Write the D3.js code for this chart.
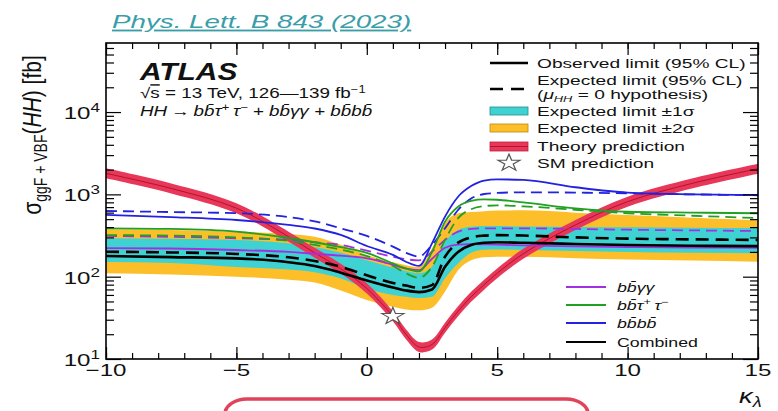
<!DOCTYPE html>
<html><head><meta charset="utf-8">
<script src="https://cdn.jsdelivr.net/npm/d3@7"></script>
<style>
body{margin:0;background:#fff}
svg{display:block}
text{font-family:"Liberation Sans",Arial,Helvetica,sans-serif;fill:#111}
</style>
</head><body>
<svg id="c" width="778" height="411"></svg>
<script>
// ---------------- data ----------------
const kappa     = [-10, -7.5, -5, -3, -2, -1, 0, 1, 1.5, 2, 2.5, 3, 3.5, 4, 4.5, 5, 6, 8, 10, 12.5, 15];
const theoryMid = [1800,1180,680,306,195,125,72,33,20,14,15,24,38,57,80,110,190,425,815,1365,2050];
const theoryHi  = [2070,1357,782,352,224,144,83,38,23,16.1,17.3,27.6,43.7,65.5,92,126,218,488,937,1570,2360];
const theoryLo  = [1565,1026,591,266,170,109,62.6,28.7,17.4,12.2,13,20.9,33,49.6,69.6,95.7,165,370,709,1187,1783];
const obsComb   = [178,173,167,150,135,112,90,74,68,65,70,132,200,243,258,262,258,250,243,238,235];
const expComb   = [201,197,189,172,155,132,104,84,78,73,79,175,259,300,315,320,316,300,290,284,279];
const exp1Hi    = [293,288,279,255,230,196,158,128,117,110,132,266,370,405,412,412,408,402,398,393,390];
const exp1Lo    = [151,147,131,122,113,95,72,60,57,55,57,96,145,195,212,214,211,205,200,196,192];
const exp2Hi    = [377,370,352,330,306,245,184,150,138,131,221,450,590,610,625,635,640,600,560,520,486];
const exp2Lo    = [110,106,100,92,85,68,52,43,40,39,42,66,120,158,172,175,175,168,162,157,152];
const bbyyObs   = [222,220,211,200,190,180,167,140,125,120,165,225,245,248,247,245,240,233,229,226,224];
const bbyyExp   = [313,305,293,280,262,243,207,175,163,158,201,280,352,380,387,387,387,380,372,365,359];
const bbttObs   = [387,380,352,295,262,228,195,145,126,116,200,466,708,835,870,860,800,675,615,600,590];
const bbttExp   = [320,315,300,272,243,213,178,135,110,97,132,280,515,660,720,735,715,650,590,550,515];
const bbbbObs   = [562,530,488,425,385,322,236,184,152,135,254,537,935,1260,1470,1520,1500,1220,1050,1000,980];
const bbbbExp   = [628,610,590,530,470,387,313,232,195,176,243,387,646,890,1010,1040,1060,1050,1030,1000,975];
const smKappa   = [1];
const smXsec    = [33];
const xTicks      = [-10, -5, 0, 5, 10, 15];
const xTickLabels = ["\u221210", "\u22125", "0", "5", "10", "15"];
const yTicks      = [10, 100, 1000, 10000];
const yTickExps   = ["1", "2", "3", "4"];

// ---------------- setup ----------------
const svg = d3.select("#c");
const L = 106, R = 758, T = 43, B = 359;
const x = d3.scaleLinear([-10, 15], [L, R]);
const y = d3.scaleLog([10, 69000], [B, T]);
const SX = 1.42; // horizontal stretch of the picture

svg.append("clipPath").attr("id", "clip").append("rect")
  .attr("x", L).attr("y", T).attr("width", R - L).attr("height", B - T);
const plot = svg.append("g").attr("clip-path", "url(#clip)");

const rows = (a, b) => kappa.map((k, i) => ({k, lo: a[i], hi: b ? b[i] : a[i]}));
const area = d3.area().x(d => x(d.k)).y0(d => y(d.lo)).y1(d => y(d.hi)).curve(d3.curveMonotoneX);
const line = d3.line().x(d => x(d.k)).y(d => y(d.lo)).curve(d3.curveMonotoneX);
const areaSmooth = d3.area().x(d => x(d.k)).y0(d => y(d.lo)).y1(d => y(d.hi)).curve(d3.curveCatmullRom.alpha(0.5));
const lineSmooth = d3.line().x(d => x(d.k)).y(d => y(d.lo)).curve(d3.curveCatmullRom.alpha(0.5));

const C = {cyan: "#3fd2d2", orange: "#fcbf2a", red: "#e8385a", redDark: "#b8102e",
           purple: "#a230e0", green: "#22a022", blue: "#2222e0", black: "#000"};

plot.append("path").attr("d", area(rows(exp2Lo, exp2Hi))).attr("fill", C.orange);
plot.append("path").attr("d", area(rows(exp1Lo, exp1Hi))).attr("fill", C.cyan);
plot.append("path").attr("d", areaSmooth(rows(theoryLo, theoryHi))).attr("fill", C.red);
plot.append("path").attr("d", lineSmooth(rows(theoryMid))).attr("fill", "none").attr("stroke", C.redDark).attr("stroke-width", 1);

function drawLine(vals, color, w, dash) {
  const p = plot.append("path").attr("d", line(rows(vals))).attr("fill", "none")
    .attr("stroke", color).attr("stroke-width", w);
  if (dash) p.attr("stroke-dasharray", dash);
}
drawLine(bbyyExp, C.purple, 1.8, "11,6");
drawLine(bbttExp, C.green, 1.8, "11,6");
drawLine(bbbbExp, C.blue, 1.8, "11,6");
drawLine(bbyyObs, C.purple, 1.8);
drawLine(bbttObs, C.green, 1.8);
drawLine(bbbbObs, C.blue, 1.8);
drawLine(expComb, C.black, 2.6, "13,7");
drawLine(obsComb, C.black, 2.6);

const star = d3.symbol(d3.symbolStar).size(90);
plot.selectAll(".sm").data(smKappa).join("path")
  .attr("transform", (d, i) => `translate(${x(d)},${y(smXsec[i])}) scale(1.3,1)`)
  .attr("d", star).attr("fill", "#fff").attr("stroke", "#555").attr("stroke-width", 1);

// ---------------- axes ----------------
function axisG(gen, tr) {
  const g = svg.append("g").attr("transform", tr).call(gen);
  g.select(".domain").remove();
  g.selectAll("line").attr("stroke", "#000").attr("stroke-width", 1.2);
  g.selectAll("text").remove();
}
const xMinor = d3.range(-10, 15.01, 1);
const yMinor = [];
yTicks.forEach(d => { for (let m = 2; m <= 9; m++) if (d * m < 69000) yMinor.push(d * m); });
axisG(d3.axisBottom(x).tickValues(xTicks).tickSize(-12), `translate(0,${B})`);
axisG(d3.axisBottom(x).tickValues(xMinor).tickSize(-6), `translate(0,${B})`);
axisG(d3.axisTop(x).tickValues(xTicks).tickSize(-12), `translate(0,${T})`);
axisG(d3.axisTop(x).tickValues(xMinor).tickSize(-6), `translate(0,${T})`);
axisG(d3.axisLeft(y).tickValues(yTicks).tickSize(-15), `translate(${L},0)`);
axisG(d3.axisLeft(y).tickValues(yMinor).tickSize(-8), `translate(${L},0)`);
axisG(d3.axisRight(y).tickValues(yTicks).tickSize(-15), `translate(${R},0)`);
axisG(d3.axisRight(y).tickValues(yMinor).tickSize(-8), `translate(${R},0)`);
svg.append("rect").attr("x", L).attr("y", T).attr("width", R - L).attr("height", B - T)
  .attr("fill", "none").attr("stroke", "#000").attr("stroke-width", 1.6);

// rich text helper
function rich(px, py, segs, o = {}) {
  const sx = o.sx || SX;
  const t = svg.append("text")
    .attr("transform", `translate(${px},${py}) scale(${sx},1)` + (o.rot ? ` rotate(${o.rot})` : ""))
    .attr("font-size", o.size || 14).attr("text-anchor", o.anchor || "start");
  if (o.weight) t.attr("font-weight", o.weight);
  if (o.style) t.attr("font-style", o.style);
  if (o.fill) t.style("fill", o.fill);
  if (o.deco) t.attr("text-decoration", o.deco);
  let cur = 0;
  segs.forEach(s => {
    if (typeof s === "string") s = {t: s};
    const sh = s.sh || 0;
    const ts = t.append("tspan").text(s.t);
    if (sh !== cur) ts.attr("dy", sh - cur);
    cur = sh;
    if (s.size) ts.attr("font-size", s.size);
    if (s.it) ts.attr("font-style", "italic");
    if (s.over) ts.attr("text-decoration", "overline");
  });
  return t;
}

xTicks.forEach((v, i) => rich(x(v), 376, [xTickLabels[i]], {size: 17, anchor: "middle"}));
yTicks.forEach((v, i) => rich(100, y(v) + 7, ["10", {t: yTickExps[i], sh: -7, size: 12}], {size: 17, anchor: "end"}));

// axis titles
rich(739, 403, [{t: "\u03ba", it: true}, {t: "\u03bb", it: true, sh: 4, size: 14}], {size: 21, sx: 1.3});
rich(41, 135, ["\u03c3", {t: "ggF + VBF", sh: 5, size: 14}, {t: "(", sh: 0}, {t: "HH", it: true}, ") [fb]"],
  {size: 21, anchor: "middle", rot: -90, sx: 1.25});

// header
rich(112, 28, ["Phys. Lett. B 843 (2023)"], {size: 18.5, style: "italic", fill: "#3a9ea8", deco: "underline", sx: 1.5});
rich(140, 80, ["ATLAS"], {size: 23, weight: "bold", style: "italic", sx: 1.3});
rich(140, 98, ["\u221a", {t: "s", over: true}, " = 13 TeV, 126\u2014139 fb", {t: "\u22121", sh: -5, size: 10}], {size: 14.5, sx: 1.3});
rich(140, 116, ["HH\u2009\u2192\u2009bb\u0304\u03c4", {t: "+", sh: -5, size: 10}, {t: "\u2009\u03c4", sh: 0}, {t: "\u2212", sh: -5, size: 10},
  {t: " + bb\u0304\u03b3\u03b3 + bb\u0304bb\u0304", sh: 0}], {size: 14.5, style: "italic", sx: 1.3});

// top-right legend
const lg = svg.append("g");
const lx1 = 490, lx2 = 528, tx = 537;
lg.append("line").attr("x1", lx1).attr("x2", lx2).attr("y1", 63).attr("y2", 63).attr("stroke", "#000").attr("stroke-width", 2.6);
lg.append("line").attr("x1", lx1).attr("x2", lx2).attr("y1", 89).attr("y2", 89).attr("stroke", "#000").attr("stroke-width", 2.6).attr("stroke-dasharray", "13,8");
lg.append("rect").attr("x", lx1).attr("y", 107).attr("width", lx2 - lx1).attr("height", 8).attr("fill", C.cyan).attr("stroke", "#2a8c8c").attr("stroke-width", 0.8);
lg.append("rect").attr("x", lx1).attr("y", 124).attr("width", lx2 - lx1).attr("height", 8).attr("fill", C.orange).attr("stroke", "#b88a10").attr("stroke-width", 0.8);
lg.append("rect").attr("x", lx1).attr("y", 142).attr("width", lx2 - lx1).attr("height", 9).attr("fill", C.red).attr("stroke", "#c0203c").attr("stroke-width", 0.8);
lg.append("line").attr("x1", lx1).attr("x2", lx2).attr("y1", 146.5).attr("y2", 146.5).attr("stroke", C.redDark).attr("stroke-width", 1);
lg.append("path").attr("transform", "translate(509,163) scale(1.3,1)").attr("d", star).attr("fill", "#fff").attr("stroke", "#555");
const ls = 13.5;
rich(tx, 68, ["Observed limit (95% CL)"], {size: ls});
rich(tx, 85, ["Expected limit (95% CL)"], {size: ls});
rich(tx, 99, ["(", {t: "\u03bc", it: true}, {t: "HH", it: true, sh: 3, size: 9}, {t: " = 0 hypothesis)", sh: 0}], {size: ls});
rich(tx, 116, ["Expected limit \u00b11\u03c3"], {size: ls});
rich(tx, 133, ["Expected limit \u00b12\u03c3"], {size: ls});
rich(tx, 151, ["Theory prediction"], {size: ls});
rich(tx, 168, ["SM prediction"], {size: ls});

// channel legend
const chan = [
  {c: C.purple, segs: [{t: "bb\u0304\u03b3\u03b3", it: true}]},
  {c: C.green, segs: [{t: "bb\u0304\u03c4", it: true}, {t: "+", sh: -5, size: 9}, {t: "\u2009\u03c4", it: true, sh: 0}, {t: "\u2212", sh: -5, size: 9}]},
  {c: C.blue, segs: [{t: "bb\u0304bb\u0304", it: true}]},
  {c: C.black, segs: ["Combined"]}
];
const cy = [287, 305, 323, 342];
chan.forEach((d, i) => {
  svg.append("line").attr("x1", 566).attr("x2", 606).attr("y1", cy[i]).attr("y2", cy[i]).attr("stroke", d.c).attr("stroke-width", 1.8);
  rich(617, cy[i] + 4.5, d.segs, {size: 12.5});
});

// red rounded box at the bottom
svg.append("rect").attr("x", 225).attr("y", 399).attr("width", 363).attr("height", 40)
  .attr("rx", 22).attr("ry", 15).attr("fill", "none").attr("stroke", "#e0435a").attr("stroke-width", 3.5);
</script>
</body></html>
